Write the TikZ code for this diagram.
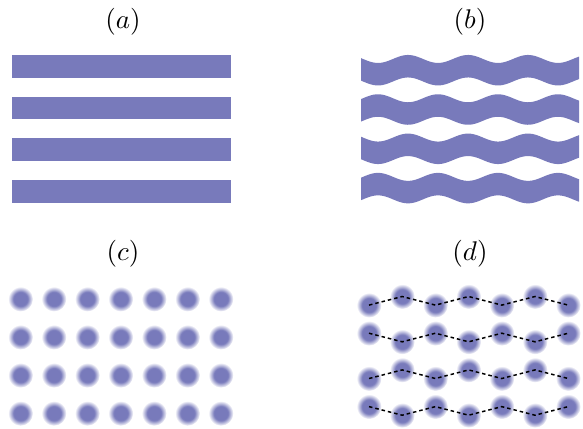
\documentclass[tikz,border=0pt]{standalone}
\usetikzlibrary{calc}
\definecolor{cband}{HTML}{787ABB}
\pgfdeclareradialshading{blob}{\pgfpoint{0bp}{0bp}}{color(0bp)=(cband); color(14bp)=(cband); color(25bp)=(white); color(50bp)=(white)}
\tikzset{
  every picture/.style={line width=0.5pt},
  panel/.style={font=\normalsize, inner sep=0pt},
  band/.style={fill=cband, draw=none},
  fuzzy/.style={shading=blob, draw=none},
  chain/.style={black, dash pattern=on 1.3pt off 1.1pt, line width=0.55pt},
}

\begin{document}
\begin{tikzpicture}[x=0.37pt, y=-0.37pt]
  \useasboundingbox (0,0) rectangle (583,428);
  % panel labels
  \node[panel] (lab-a) at (123,22) {$(a)$};
  \node[panel] (lab-b) at (470,22) {$(b)$};
  \node[panel] (lab-c) at (123,254) {$(c)$};
  \node[panel] (lab-d) at (470,254) {$(d)$};
  % straight stripes
  \foreach \i in {0,...,3}
    \fill[band] (12,{55+41.7*\i}) rectangle (231,{77.7+41.7*\i});
  % wavy stripes
  \foreach \i in {0,...,3} {
    \pgfmathsetmacro{\yc}{70.2+39.3*\i}
    \pgfmathsetmacro{\sg}{1-2*mod(\i,2)}
    \fill[band] plot[domain=361:579, samples=90] (\x, {\yc-11.25+4*\sg*cos(6*(\x-378))})
      -- plot[domain=579:361, samples=90] (\x, {\yc+11.25+4*\sg*cos(6*(\x-378))}) -- cycle;
  }
  % square lattice of blobs
  \foreach \i in {0,...,3}
    \foreach \j in {0,...,6}
      \shade[fuzzy] ({20.5+33.4*\j},{299+38.1*\i}) circle (12.5);
  % zig-zag lattice of blobs
  \foreach \i in {0,...,3} {
    \foreach \j in {0,...,6} {
      \coordinate (d-\i-\j) at ({369+33.2*\j},{300.8+36.7*\i+4.3*(1-2*mod(\i+\j,2))});
      \shade[fuzzy] (d-\i-\j) circle (12.5);
    }
  }
  \foreach \i in {0,...,3}
    \draw[chain] (d-\i-0) \foreach \j in {1,...,6} { -- (d-\i-\j) };
\end{tikzpicture}
\end{document}
